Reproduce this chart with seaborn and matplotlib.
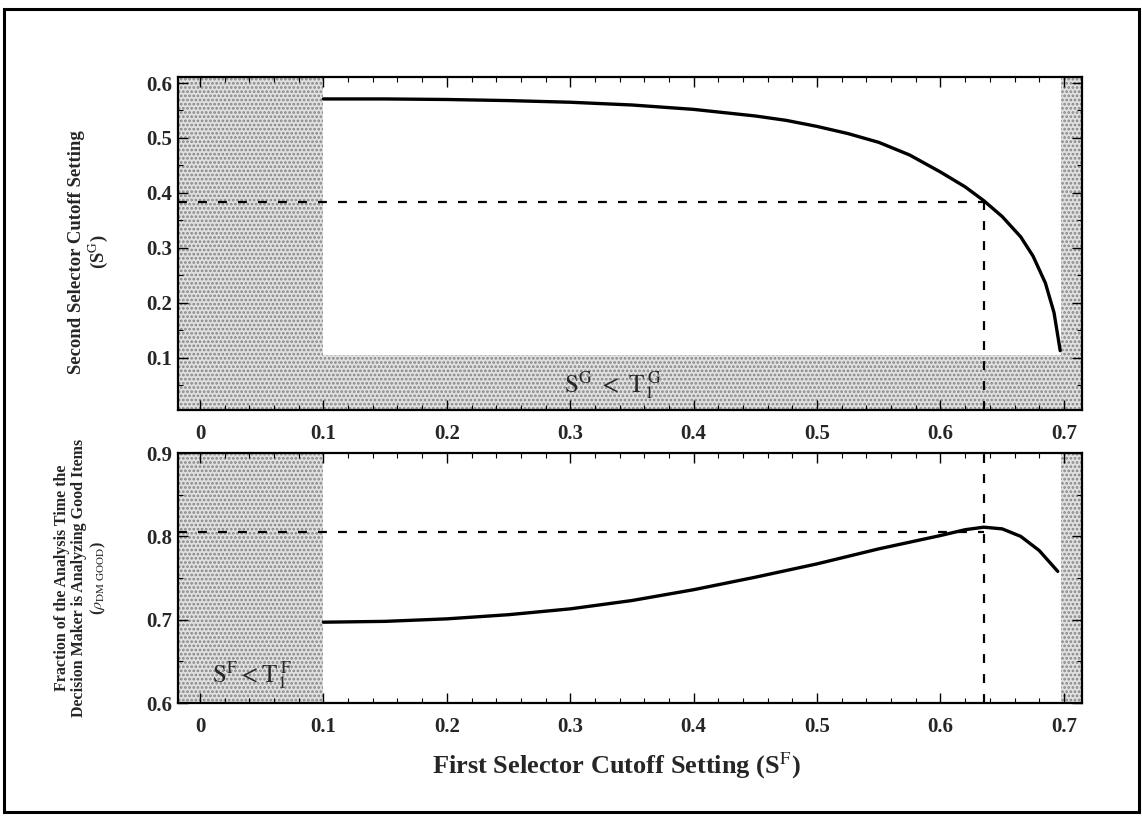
import matplotlib
matplotlib.use("Agg")
import matplotlib.pyplot as plt
import seaborn as sns
import pandas as pd
from matplotlib.patches import Rectangle
from matplotlib.ticker import MultipleLocator

# ---------------- data ----------------
sf_top = [0.10, 0.15, 0.20, 0.25, 0.30, 0.35, 0.40, 0.45, 0.475, 0.50, 0.525, 0.55, 0.575,
          0.60, 0.62, 0.635, 0.65, 0.665, 0.675, 0.685, 0.692, 0.697]
sg_top = [0.571, 0.571, 0.570, 0.568, 0.565, 0.560, 0.552, 0.540, 0.532, 0.521, 0.508, 0.492, 0.469,
          0.438, 0.411, 0.386, 0.357, 0.320, 0.285, 0.236, 0.182, 0.113]

sf_bot = [0.10, 0.15, 0.20, 0.25, 0.30, 0.35, 0.40, 0.45, 0.50, 0.55, 0.60, 0.62, 0.635,
          0.65, 0.665, 0.68, 0.695]
rho_bot = [0.697, 0.698, 0.701, 0.706, 0.713, 0.723, 0.736, 0.751, 0.767, 0.785, 0.801, 0.808, 0.811,
           0.809, 0.800, 0.783, 0.758]

opt_sf = 0.635
opt_sg = 0.384
opt_rho = 0.805

x_ticks = [0, 0.1, 0.2, 0.3, 0.4, 0.5, 0.6, 0.7]
x_tick_labels = ["0", "0.1", "0.2", "0.3", "0.4", "0.5", "0.6", "0.7"]
top_y_ticks = [0.1, 0.2, 0.3, 0.4, 0.5, 0.6]
top_y_labels = ["0.1", "0.2", "0.3", "0.4", "0.5", "0.6"]
bot_y_ticks = [0.6, 0.7, 0.8, 0.9]
bot_y_labels = ["0.6", "0.7", "0.8", "0.9"]

# threshold regions
t1f = 0.1
t2f = 0.698
t1g = 0.105

df_top = pd.DataFrame({"SF": sf_top, "SG": sg_top})
df_bot = pd.DataFrame({"SF": sf_bot, "rho": rho_bot})

# ---------------- style ----------------
sns.set_style("ticks")
plt.rcParams["font.family"] = ["Liberation Serif", "DejaVu Serif"]
plt.rcParams["mathtext.fontset"] = "stix"
plt.rcParams["hatch.linewidth"] = 1.3

fig = plt.figure(figsize=(11.42, 8.17), dpi=100)
ax1 = fig.add_axes([0.1559, 0.4982, 0.7916, 0.4076])
ax2 = fig.add_axes([0.1559, 0.1395, 0.7916, 0.3060])

XL = (-0.0178, 0.7147)
shade_kw = dict(facecolor="#e0e0e0", edgecolor="#858585", hatch="....", linewidth=0, zorder=0)

def style_axes(ax, yticks, ylabels, ylim):
    ax.set_xlim(*XL)
    ax.set_ylim(*ylim)
    ax.set_xticks(x_ticks, labels=x_tick_labels)
    ax.set_yticks(yticks, labels=ylabels)
    ax.xaxis.set_minor_locator(MultipleLocator(0.02))
    ax.yaxis.set_minor_locator(MultipleLocator(0.05))
    ax.tick_params(which="both", direction="in", top=True, right=True, color="black")
    ax.tick_params(which="major", length=7, width=1.0, labelsize=15)
    ax.tick_params(which="minor", length=3.5, width=0.8)
    ax.tick_params(axis="x", pad=10)
    ax.tick_params(axis="y", pad=4)
    for lab in ax.get_xticklabels() + ax.get_yticklabels():
        lab.set_fontweight("bold")
    for sp in ax.spines.values():
        sp.set_linewidth(1.6)
        sp.set_color("black")
    ax.set_xlabel("")
    ax.set_ylabel("")

# ---------------- top panel ----------------
y1 = (0.005, 0.611)
ax1.add_patch(Rectangle((XL[0], y1[0]), t1f - XL[0], y1[1] - y1[0], **shade_kw))
ax1.add_patch(Rectangle((t2f, y1[0]), XL[1] - t2f, y1[1] - y1[0], **shade_kw))
ax1.add_patch(Rectangle((t1f, y1[0]), t2f - t1f, t1g - y1[0], **shade_kw))
sns.lineplot(data=df_top, x="SF", y="SG", ax=ax1, color="black", lw=2.4, zorder=3)
ax1.plot([XL[0], opt_sf], [opt_sg, opt_sg], ls=(0, (4, 5)), color="black", lw=1.6, zorder=2)
ax1.plot([opt_sf, opt_sf], [y1[0], opt_sg], ls=(0, (4, 5)), color="black", lw=1.6, zorder=2)
ax1.text(0.335, 0.05, r"$\mathrm{S}^{\mathrm{G}}\ <\ \mathrm{T}_1^{\;\mathrm{G}}$",
         fontsize=18, ha="center", va="center")
style_axes(ax1, top_y_ticks, top_y_labels, y1)

# ---------------- bottom panel ----------------
y2 = (0.6, 0.9)
ax2.add_patch(Rectangle((XL[0], y2[0]), t1f - XL[0], y2[1] - y2[0], **shade_kw))
ax2.add_patch(Rectangle((t2f, y2[0]), XL[1] - t2f, y2[1] - y2[0], **shade_kw))
sns.lineplot(data=df_bot, x="SF", y="rho", ax=ax2, color="black", lw=2.4, zorder=3)
ax2.plot([XL[0], opt_sf], [opt_rho, opt_rho], ls=(0, (4, 5)), color="black", lw=1.6, zorder=2)
ax2.plot([opt_sf, opt_sf], [y2[0], y2[1]], ls=(0, (4, 5)), color="black", lw=1.6, zorder=2)
ax2.text(0.042, 0.634, r"$\mathrm{S}^{\mathrm{F}} < \mathrm{T}_1^{\;\mathrm{F}}$",
         fontsize=18, ha="center", va="center")
style_axes(ax2, bot_y_ticks, bot_y_labels, y2)

# ---------------- labels ----------------
fig.text(0.078, 1 - 252 / 817,
         "Second Selector Cutoff Setting\n" + r"(S$^{\mathrm{G}}$)",
         rotation=90, ha="center", va="center", multialignment="center",
         fontsize=13.5, fontweight="bold", linespacing=1.05)
fig.text(0.071, 1 - 578 / 817,
         "Fraction of the Analysis Time the\nDecision Maker is Analyzing Good Items\n"
         + r"($\rho_{\mathrm{DM\ GOOD}}$)",
         rotation=90, ha="center", va="center", multialignment="center",
         fontsize=11.5, fontweight="bold", linespacing=1.1)
fig.text(616 / 1142, 1 - 766 / 817, r"First Selector Cutoff Setting (S$^{\mathrm{F}}$)",
         ha="center", va="center", fontsize=19, fontweight="bold")

# outer frame
fig.patches.append(Rectangle((4 / 1142, 1 - 812 / 817), 1135 / 1142, 803 / 817,
                             transform=fig.transFigure, fill=False,
                             edgecolor="black", linewidth=2.2))

fig.savefig("out.png", dpi=100)
